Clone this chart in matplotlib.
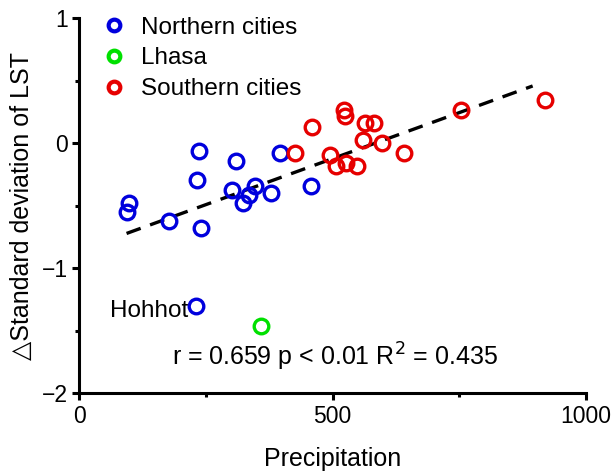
import matplotlib
matplotlib.use("Agg")
import matplotlib.pyplot as plt
import numpy as np

plt.rcParams['font.family'] = ['Liberation Sans', 'DejaVu Sans']

# northern cities (last one is Hohhot)
north_x = [98, 93, 176, 236, 233, 240, 309, 301, 323, 334, 346, 379, 396, 457, 230]
north_y = [-0.48, -0.55, -0.62, -0.06, -0.29, -0.68, -0.14, -0.37, -0.48, -0.41, -0.34, -0.40, -0.08, -0.34, -1.30]

# Lhasa
lhasa_x = [359]
lhasa_y = [-1.46]

# southern cities
south_x = [426, 459, 523, 525, 563, 581, 559, 598, 641, 495, 506, 527, 548, 754, 920]
south_y = [-0.08, 0.13, 0.27, 0.22, 0.16, 0.16, 0.03, 0.0, -0.08, -0.09, -0.18, -0.155, -0.18, 0.27, 0.35]

# fitted trend line
fit_x = [93, 895]
fit_y = [-0.72, 0.46]

fig = plt.figure(figsize=(6.16, 4.74), dpi=100)
ax = fig.add_axes([0.129, 0.170, 0.822, 0.791])

mk = dict(marker='o', markersize=10.5, markerfacecolor='none', markeredgewidth=2.4, linestyle='none')
ax.plot(fit_x, fit_y, color='black', linestyle=(0, (4.5, 3)), linewidth=2.4, zorder=1)
ax.plot(north_x, north_y, markeredgecolor='#0000dd', label='Northern cities', **mk)
ax.plot(lhasa_x, lhasa_y, markeredgecolor='#00e000', label='Lhasa', **mk)
ax.plot(south_x, south_y, markeredgecolor='#e60000', label='Southern cities', **mk)

ax.text(214, -1.34, 'Hohhot', fontsize=17.5, ha='right', va='center')
ax.text(504, -1.71, r'r = 0.659 p < 0.01 R$^2$ = 0.435', fontsize=18, ha='center', va='center')

ax.set_xlim(0, 1000)
ax.set_ylim(-2, 1)
ax.set_xticks([0, 500, 1000])
ax.set_yticks([-2, -1, 0, 1])
ax.set_xticks([250, 750], minor=True)
ax.set_yticks([-1.5, -0.5, 0.5], minor=True)
ax.spines['top'].set_visible(False)
ax.spines['right'].set_visible(False)
for s in ['left', 'bottom']:
    ax.spines[s].set_linewidth(2.2)
ax.tick_params(which='major', length=5, width=2.2, labelsize=16.5, pad=3)
ax.tick_params(which='minor', length=3, width=2.2)
ax.set_xlabel('Precipitation', fontsize=18, labelpad=14)
ax.set_ylabel('△Standard deviation of LST', fontsize=18, labelpad=6)

leg = ax.legend(loc='upper left', frameon=False, fontsize=17.5, handletextpad=0.5,
                borderaxespad=0, markerscale=0.8, bbox_to_anchor=(0.02, 1.03),
                labelspacing=0.35, handlelength=1.2)
for h in leg.legend_handles:
    h.set_markeredgewidth(3)

fig.savefig('out.png', dpi=100)
